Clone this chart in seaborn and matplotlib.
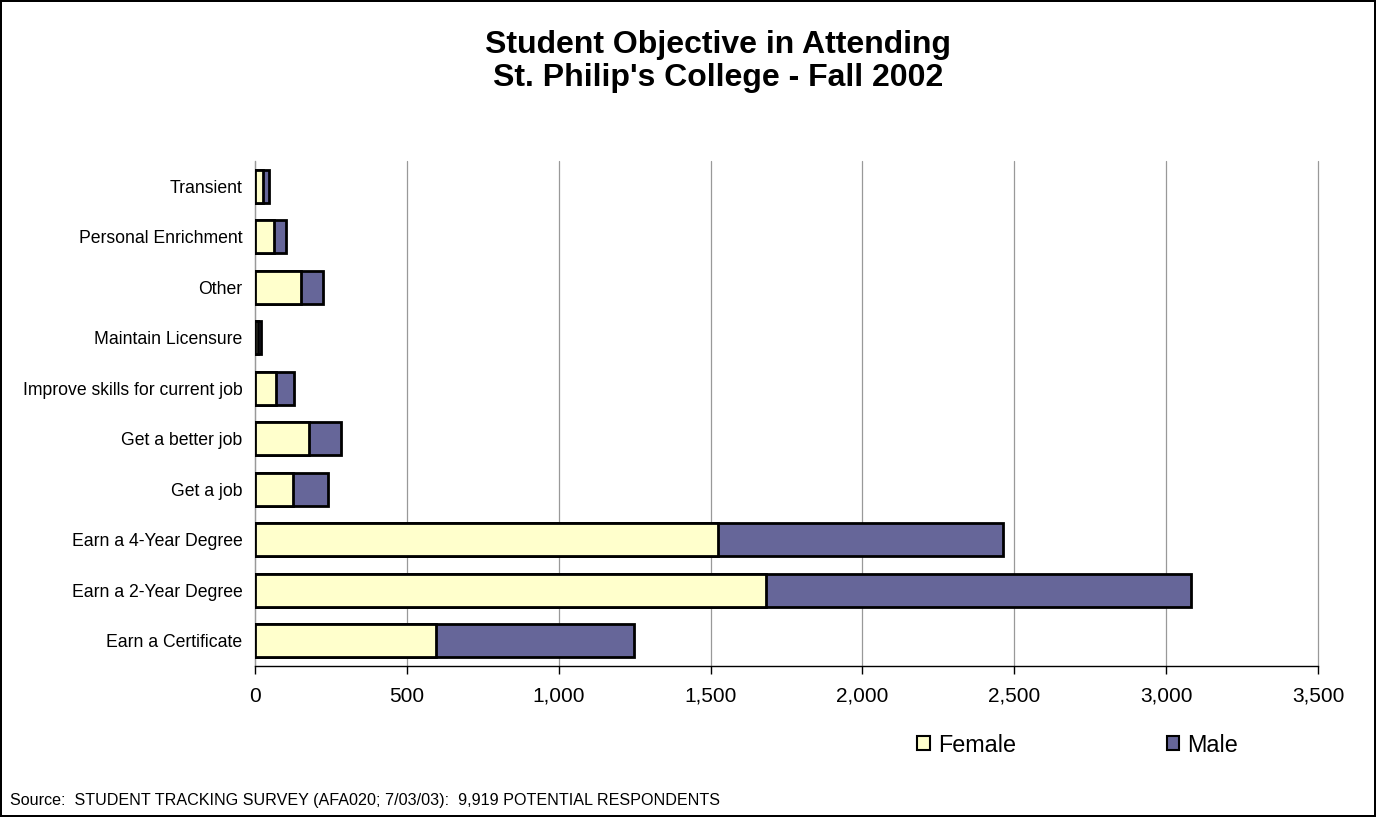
import matplotlib
matplotlib.use("Agg")
import matplotlib.pyplot as plt
from matplotlib.patches import Patch
from matplotlib.ticker import FuncFormatter, MultipleLocator
import seaborn as sns
import pandas as pd

# Survey counts by stated objective (top to bottom as listed)
objectives = [
    "Transient",
    "Personal Enrichment",
    "Other",
    "Maintain Licensure",
    "Improve skills for current job",
    "Get a better job",
    "Get a job",
    "Earn a 4-Year Degree",
    "Earn a 2-Year Degree",
    "Earn a Certificate",
]
female = [25, 63, 153, 9, 69, 178, 125, 1523, 1684, 597]
male = [22, 40, 71, 10, 58, 106, 115, 939, 1398, 651]

female_color = "#FFFFCC"
male_color = "#666699"

df = pd.DataFrame({"objective": objectives, "female": female, "male": male})
df["total"] = df["female"] + df["male"]

sns.set_theme(style="white")
plt.rcParams["font.family"] = ["Liberation Sans", "DejaVu Sans"]
plt.rcParams["text.color"] = "black"
plt.rcParams["xtick.color"] = "black"
plt.rcParams["ytick.color"] = "black"

fig = plt.figure(figsize=(13.76, 8.17), dpi=100)
fig.patch.set_facecolor("white")
fig.patch.set_edgecolor("black")
fig.patch.set_linewidth(1.5)

ax = fig.add_axes([255 / 1376, 1 - 666 / 817, (1318 - 255) / 1376, (666 - 161) / 817])

bar_w = 0.66
# Male segment is drawn as the full stacked total, female drawn over it from zero
sns.barplot(data=df, x="total", y="objective", orient="h", color=male_color,
            saturation=1, width=bar_w, edgecolor="black", linewidth=2.0, ax=ax, zorder=3)
sns.barplot(data=df, x="female", y="objective", orient="h", color=female_color,
            saturation=1, width=bar_w, edgecolor="black", linewidth=2.0, ax=ax, zorder=4)

ax.set_xlim(0, 3500)
ax.set_ylim(9.5, -0.5)
ax.xaxis.set_major_locator(MultipleLocator(500))
ax.xaxis.set_major_formatter(FuncFormatter(lambda v, p: f"{int(v):,}"))
ax.grid(axis="x", color="#999999", linewidth=0.9, zorder=0)
ax.set_axisbelow(True)
for gl in ax.get_xgridlines():
    gl.set_clip_on(False)
ax.set_xlabel("")
ax.set_ylabel("")

for side in ["top", "right"]:
    ax.spines[side].set_visible(False)
ax.spines["left"].set_color("#999999")
ax.spines["left"].set_linewidth(0.9)
ax.spines["bottom"].set_color("black")
ax.spines["bottom"].set_linewidth(1.0)

ax.tick_params(axis="x", which="major", direction="out", length=6, width=1.0,
               color="black", labelsize=15, pad=9, bottom=True, labelcolor="black")
ax.tick_params(axis="y", length=0, labelsize=12.7, pad=9, labelcolor="black")

title_x = 718 / 1376
fig.text(title_x, 1 - 45 / 817, "Student Objective in Attending", ha="center", va="center",
         fontsize=23, fontweight="bold", color="black")
fig.text(title_x, 1 - 78 / 817, "St. Philip's College - Fall 2002", ha="center", va="center",
         fontsize=23, fontweight="bold", color="black")

handles = [
    Patch(facecolor=female_color, edgecolor="black", linewidth=1.5, label="Female"),
    Patch(facecolor=male_color, edgecolor="black", linewidth=1.5, label="Male"),
]
fig.legend(handles=handles, loc="center left", bbox_to_anchor=(917 / 1376, 1 - 745 / 817),
           ncol=2, frameon=False, fontsize=16.8, handlelength=0.55, handleheight=0.55,
           handletextpad=0.35, columnspacing=6.45, borderaxespad=0, borderpad=0,
           labelcolor="black")

fig.text(10 / 1376, 1 - 800 / 817,
         "Source:  STUDENT TRACKING SURVEY (AFA020; 7/03/03):  9,919 POTENTIAL RESPONDENTS",
         ha="left", va="center", fontsize=11.6, color="black")

fig.savefig("out.png", dpi=100, facecolor=fig.get_facecolor(), edgecolor=fig.get_edgecolor())
